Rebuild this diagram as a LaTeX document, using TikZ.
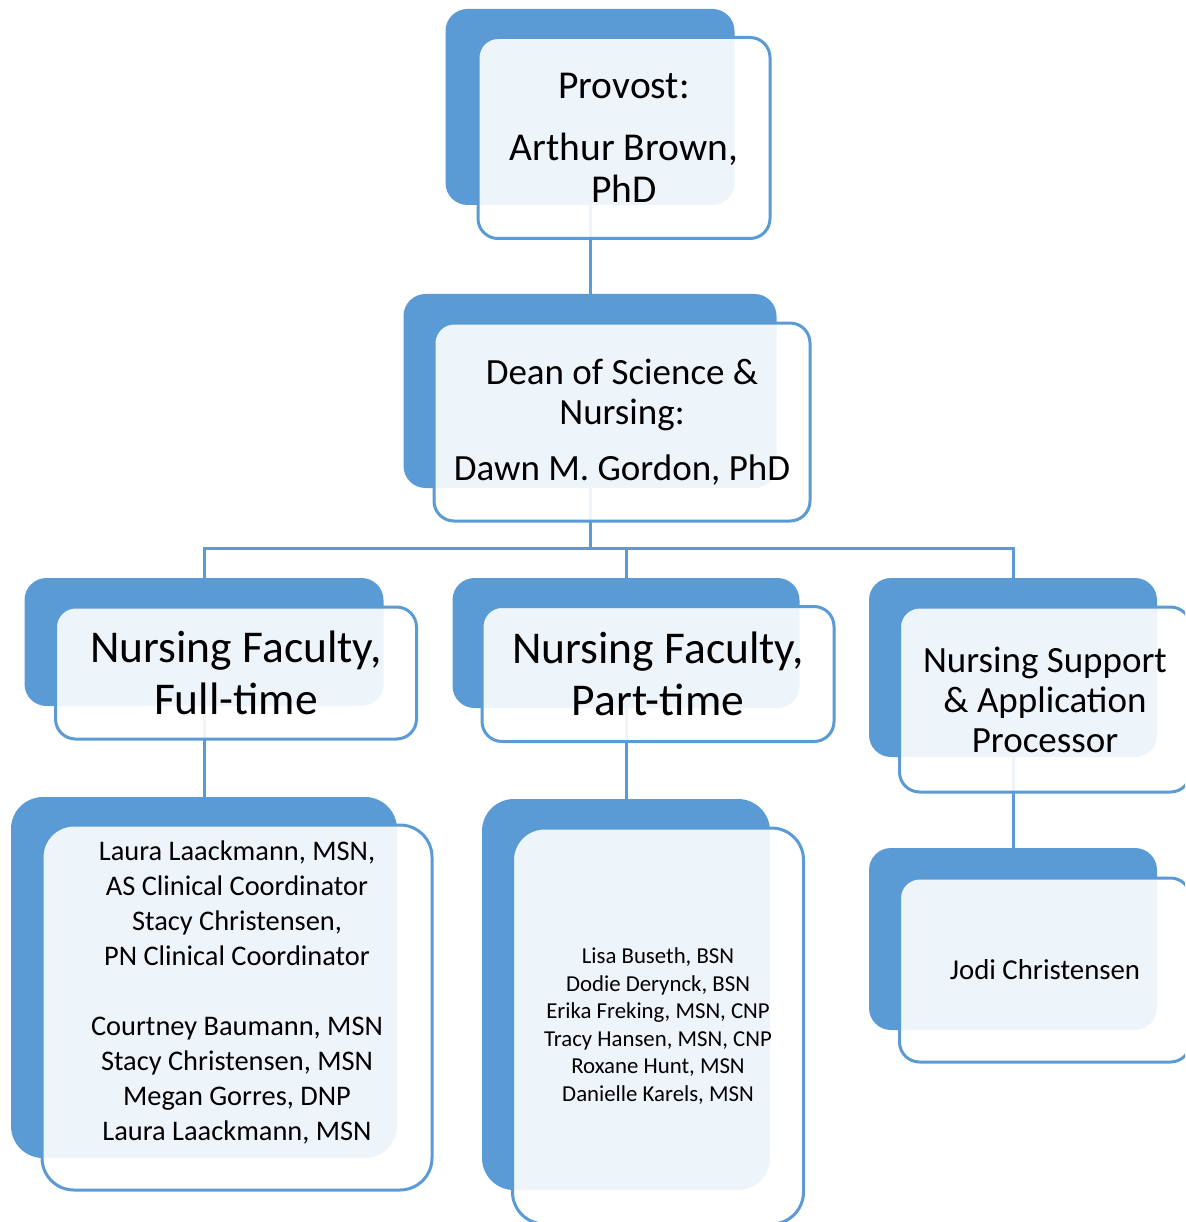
\documentclass[tikz,border=0pt]{standalone}
\usepackage{fontspec}
\setmainfont{Carlito}
\definecolor{accent}{HTML}{5B9BD5}
\tikzset{
  backbox/.style={fill=accent, rounded corners=22pt, inner sep=0pt},
  frontbox/.style={draw=accent, line width=3pt, fill=white, fill opacity=0.9,
    text opacity=1, rounded corners=20pt, inner sep=0pt, align=center},
  connector/.style={draw=accent, line width=3pt},
}
\begin{document}
\begin{tikzpicture}[x=1pt, y=-1pt]
  \useasboundingbox (0,0) rectangle (1185,1222);
  \clip (0,0) rectangle (1185,1222);

  % back boxes
  \node[backbox, minimum width=289, minimum height=196] (provostback) at (590,107) {};
  \node[backbox, minimum width=373, minimum height=194] (deanback) at (590,391) {};
  \node[backbox, minimum width=359, minimum height=128] (fullback) at (204,642) {};
  \node[backbox, minimum width=347, minimum height=130] (partback) at (626,643) {};
  \node[backbox, minimum width=288, minimum height=179] (supportback) at (1013,667.5) {};
  \node[backbox, rounded corners=32pt, minimum width=386, minimum height=361] (fulllistback) at (204,977.5) {};
  \node[backbox, rounded corners=32pt, minimum width=288, minimum height=391] (partlistback) at (626,994.5) {};
  \node[backbox, minimum width=288, minimum height=182] (jodiback) at (1013,939) {};

  % connectors
  \coordinate (bus) at (590,548);
  \draw[connector] (provostback.south) -- (deanback.north);
  \draw[connector] (deanback.south) -- (bus);
  \draw[connector] (bus) -| (fullback.north);
  \draw[connector] (bus) -| (partback.north);
  \draw[connector] (bus) -| (supportback.north);
  \draw[connector] (fullback.south) -- (fulllistback.north);
  \draw[connector] (partback.south) -- (partlistback.north);
  \draw[connector] (supportback.south) -- (jodiback.north);

  % front boxes
  \node[frontbox, minimum width=292, minimum height=201, font=\fontsize{39.5}{42}\selectfont]
    (provost) at ([shift={(34,31)}]provostback.center) {Provost:\\[20pt]Arthur Brown,\\PhD};
  \node[frontbox, minimum width=376, minimum height=198, font=\fontsize{37}{40}\selectfont]
    (dean) at ([shift={(32,31)}]deanback.center) {Dean of Science \&\\Nursing:\\[16pt]Dawn M. Gordon, PhD};
  \node[frontbox, minimum width=361, minimum height=132, font=\fontsize{45.5}{52}\selectfont]
    (full) at ([shift={(32,31)}]fullback.center) {Nursing Faculty,\\Full-time};
  \node[frontbox, minimum width=352, minimum height=135, font=\fontsize{45.5}{52}\selectfont]
    (part) at ([shift={(32,31)}]partback.center) {Nursing Faculty,\\Part-time};
  \node[frontbox, minimum width=291, minimum height=185, font=\fontsize{37}{40}\selectfont]
    (support) at ([shift={(32,32)}]supportback.center) {Nursing Support\\\& Application\\Processor};
  \node[frontbox, rounded corners=32pt, minimum width=390, minimum height=365]
    (fulllist) at ([shift={(33,30)}]fulllistback.center) {};
  \node[align=center, font=\fontsize{28.4}{35}\selectfont] (fullnames) at ([yshift=15pt]fulllist.center)
    {Laura Laackmann, MSN,\\AS Clinical Coordinator\\Stacy Christensen,\\PN Clinical Coordinator\\[35pt]
     Courtney Baumann, MSN\\Stacy Christensen, MSN\\Megan Gorres, DNP\\Laura Laackmann, MSN};
  \node[frontbox, rounded corners=32pt, minimum width=291, minimum height=396, font=\fontsize{22.8}{27.6}\selectfont]
    (partlist) at ([shift={(32,31.5)}]partlistback.center)
    {Lisa Buseth, BSN\\Dodie Derynck, BSN\\Erika Freking, MSN, CNP\\Tracy Hansen, MSN, CNP\\Roxane Hunt, MSN\\Danielle Karels, MSN};
  \node[frontbox, minimum width=291, minimum height=184, font=\fontsize{28.8}{34}\selectfont]
    (jodi) at ([shift={(32,31)}]jodiback.center) {Jodi Christensen};
\end{tikzpicture}
\end{document}
